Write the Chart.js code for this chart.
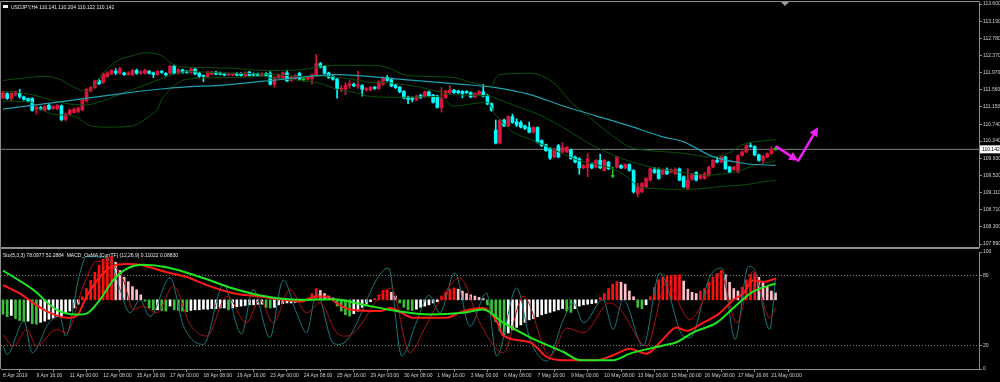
<!DOCTYPE html>
<html><head><meta charset="utf-8">
<script src="https://cdn.jsdelivr.net/npm/chart.js@4.4.1/dist/chart.umd.min.js"></script>
<style>
html,body{margin:0;padding:0;background:#000;width:1000px;height:382px;overflow:hidden}
canvas{position:absolute;left:0}
#main{top:0}
#sub{top:248px}
</style></head><body>
<canvas id="main" width="1000" height="248"></canvas>
<canvas id="sub" width="1000" height="134"></canvas>
<script>
// ---------- DATA ----------
const symbolTitle = 'USDJPY,H4 110.141 110.204 110.122 110.142';
const subTitle = 'Sto(5,3,3) 78.0977 52.2884  MACD_OsMA [CurrTF] (12,26,9) 0.11022 0.08830';
const lastPrice = 110.142;

const opens = [111.37,111.47,111.35,111.45,111.47,111.39,111.35,111.35,111.10,111.14,111.07,111.19,111.11,111.11,111.18,110.85,110.98,111.02,111.04,111.08,
111.29,111.53,111.61,111.78,111.73,111.88,111.94,112.00,111.95,111.96,111.92,111.92,112.02,111.95,111.95,112.00,111.96,111.92,112.00,111.95,
111.95,112.12,111.95,112.03,112.00,111.97,112.05,111.96,111.90,111.87,111.93,111.98,111.96,111.94,111.91,111.91,111.95,111.95,111.88,111.98,
111.94,111.94,111.90,111.95,111.95,111.69,111.85,111.83,111.96,111.78,111.82,111.95,111.80,111.81,111.82,111.90,112.18,112.12,111.96,111.88,
111.81,111.57,111.57,111.66,111.69,111.65,111.66,111.55,111.55,111.62,111.59,111.69,111.85,111.80,111.67,111.62,111.52,111.39,111.37,111.32,
111.43,111.39,111.51,111.43,111.41,111.14,111.37,111.49,111.55,111.53,111.52,111.52,111.49,111.39,111.45,111.51,111.43,111.23,110.60,110.29,
110.84,110.70,110.92,110.80,110.78,110.70,110.66,110.55,110.66,110.35,110.25,110.17,109.96,110.23,110.08,110.08,110.13,109.96,109.92,109.70,
109.70,109.80,109.72,109.88,109.64,109.84,109.50,109.72,109.76,109.70,109.78,109.64,109.09,109.13,109.25,109.41,109.66,109.66,109.56,109.66,
109.60,109.56,109.68,109.49,109.21,109.43,109.59,109.45,109.45,109.52,109.72,109.88,109.84,109.96,109.72,109.66,109.60,110.00,110.08,110.23,
110.21,110.01,109.88,109.96,110.04,110.141];
const highs = [111.52,111.49,111.51,111.53,111.57,111.41,111.36,111.37,111.18,111.16,111.18,111.22,111.18,111.21,111.20,111.01,111.10,111.13,111.15,111.34,
111.60,111.64,111.79,111.82,111.96,111.99,112.04,112.06,112.10,111.98,111.99,112.05,112.05,112.01,112.05,112.02,111.98,112.02,112.02,111.97,
112.14,112.15,112.06,112.05,112.02,112.08,112.07,111.98,111.91,112.00,112.00,112.00,111.98,111.96,111.96,111.96,111.97,111.97,111.99,112.00,
111.96,111.96,111.97,111.97,111.99,111.87,111.94,111.98,112.03,111.88,111.92,111.98,111.85,111.87,111.93,112.40,112.21,112.14,111.98,111.90,
111.83,111.66,111.73,111.78,111.72,112.00,111.68,111.61,111.64,111.64,111.77,111.87,111.90,111.82,111.69,111.64,111.54,111.41,111.39,111.43,
111.45,111.53,111.53,111.45,111.43,111.61,111.55,111.65,111.57,111.55,111.54,111.54,111.51,111.49,111.54,111.69,111.45,111.25,110.84,110.86,
110.86,110.94,110.98,110.87,110.82,110.72,110.79,110.68,110.68,110.37,110.27,110.19,110.17,110.26,110.30,110.21,110.15,109.98,109.94,109.78,
110.05,109.82,109.90,110.03,109.90,109.86,109.72,109.98,109.78,109.80,109.80,109.66,109.33,109.35,109.47,109.70,109.71,109.70,109.68,109.70,
109.68,109.70,109.70,109.51,109.68,109.58,109.61,109.55,109.60,109.74,109.90,109.96,109.98,109.98,109.74,109.74,110.01,110.10,110.25,110.31,
110.23,110.03,110.00,110.06,110.20,110.204];
const lows = [111.34,111.33,111.29,111.41,111.36,111.31,111.27,111.05,110.98,111.08,111.05,111.08,111.09,111.08,110.82,110.82,110.96,111.00,111.02,111.06,
111.27,111.51,111.59,111.68,111.71,111.86,111.92,111.92,111.93,111.90,111.90,111.90,111.93,111.93,111.93,111.93,111.85,111.90,111.95,111.89,
111.93,111.93,111.93,111.95,111.95,111.95,111.92,111.85,111.75,111.85,111.91,111.91,111.91,111.89,111.89,111.89,111.89,111.88,111.86,111.88,
111.89,111.88,111.88,111.88,111.67,111.62,111.83,111.81,111.75,111.76,111.80,111.79,111.76,111.79,111.69,111.88,112.08,111.93,111.83,111.79,
111.36,111.51,111.44,111.59,111.63,111.59,111.41,111.53,111.53,111.57,111.57,111.67,111.76,111.63,111.59,111.49,111.34,111.23,111.27,111.30,
111.35,111.37,111.39,111.24,111.12,111.03,111.35,111.47,111.47,111.47,111.37,111.47,111.37,111.37,111.43,111.39,111.20,111.05,110.27,110.27,
110.68,110.68,110.76,110.68,110.65,110.61,110.53,110.53,110.29,110.21,110.09,109.90,109.94,109.94,110.06,110.06,109.90,109.82,109.55,109.68,
109.49,109.68,109.70,109.68,109.62,109.66,109.47,109.70,109.68,109.68,109.62,109.10,109.01,109.11,109.23,109.39,109.57,109.43,109.54,109.54,
109.58,109.54,109.39,109.23,109.17,109.41,109.39,109.43,109.43,109.50,109.70,109.82,109.82,109.66,109.58,109.64,109.58,109.98,110.06,110.19,
109.99,109.86,109.81,109.94,110.02,110.122];
const closes = [111.49,111.35,111.47,111.51,111.39,111.33,111.29,111.07,111.14,111.10,111.16,111.10,111.16,111.19,110.85,110.98,111.08,111.10,111.12,111.32,
111.57,111.61,111.77,111.70,111.94,111.96,112.02,111.96,112.06,111.92,111.96,112.02,111.95,111.99,112.03,111.95,111.92,112.00,111.97,111.91,
112.12,111.95,112.04,111.97,111.97,112.05,111.94,111.88,111.88,111.98,111.98,111.93,111.93,111.91,111.94,111.94,111.91,111.90,111.96,111.90,
111.91,111.90,111.95,111.90,111.69,111.85,111.92,111.96,111.77,111.86,111.90,111.81,111.80,111.85,111.91,112.18,112.10,111.95,111.85,111.81,
111.57,111.59,111.66,111.70,111.65,111.67,111.57,111.59,111.62,111.59,111.75,111.83,111.78,111.65,111.61,111.51,111.36,111.33,111.33,111.41,
111.37,111.51,111.41,111.26,111.14,111.36,111.53,111.55,111.49,111.49,111.47,111.49,111.39,111.47,111.52,111.41,111.22,111.07,110.29,110.84,
110.70,110.92,110.78,110.72,110.67,110.64,110.55,110.66,110.31,110.23,110.11,109.93,110.15,109.96,110.19,110.19,109.92,109.84,109.70,109.76,
109.92,109.70,109.88,109.70,109.88,109.68,109.50,109.96,109.70,109.78,109.64,109.13,109.25,109.33,109.45,109.68,109.59,109.45,109.66,109.56,
109.65,109.66,109.41,109.25,109.41,109.56,109.41,109.53,109.56,109.72,109.88,109.84,109.96,109.68,109.60,109.72,109.99,110.08,110.23,110.21,
110.01,109.88,109.98,110.04,110.14,110.142];

// Indicator lines: [bar index, value]
const bbUpper = [[0,111.78],[6,111.85],[10,111.88],[13,111.83],[17,111.62],[20,111.52],[22,111.66],[24,111.95],[27,112.23],[31,112.37],[34,112.44],[38,112.37],[40,112.21],[42,112.11],[46,112.09],[55,112.07],[62,112.02],[68,112.02],[74,112.07],[77,112.14],[88,112.14],[92,112.09],[96,111.92],[100,111.88],[108,111.85],[112,111.74],[117,111.64],[118,111.85],[119,111.92],[126,111.95],[130,111.85],[133,111.62],[136,111.26],[139,111.03],[142,110.77],[146,110.46],[150,110.20],[155,110.11],[162,110.06],[170,109.96],[174,110.06],[177,110.25],[180,110.32],[185,110.37]];
const bbMiddle = [[0,111.52],[4,111.49],[8,111.42],[12,111.30],[16,111.22],[20,111.20],[24,111.30],[28,111.45],[32,111.60],[36,111.75],[40,111.90],[44,111.99],[48,111.98],[52,111.96],[56,111.95],[60,111.94],[64,111.93],[68,111.90],[72,111.87],[76,111.89],[80,111.86],[84,111.80],[88,111.74],[92,111.73],[96,111.68],[100,111.62],[104,111.52],[108,111.44],[112,111.43],[116,111.42],[118,111.36],[120,111.28],[124,111.13],[128,110.98],[132,110.78],[136,110.55],[140,110.30],[144,110.10],[148,109.93],[152,109.80],[156,109.70],[160,109.63],[164,109.57],[168,109.53],[172,109.55],[176,109.62],[180,109.76],[185,109.87]];
const bbLower = [[0,111.29],[7,111.26],[8,111.17],[12,110.98],[17,110.93],[21,110.70],[25,110.67],[31,110.70],[35,110.93],[37,111.10],[38,111.33],[39,111.45],[40,111.57],[44,111.81],[55,111.85],[62,111.88],[64,111.84],[68,111.81],[76,111.71],[80,111.57],[84,111.50],[88,111.40],[96,111.38],[104,111.40],[108,111.17],[112,111.22],[116,111.26],[118,110.95],[120,110.75],[122,110.56],[126,110.39],[130,110.22],[134,110.04],[138,109.87],[142,109.78],[146,109.68],[150,109.45],[152,109.26],[156,109.21],[162,109.19],[168,109.21],[172,109.26],[178,109.30],[182,109.37],[185,109.40]];
const maLine = [[0,111.10],[15,111.29],[27,111.45],[39,111.59],[55,111.69],[67,111.81],[80,111.92],[94,111.82],[110,111.69],[118,111.61],[126,111.45],[134,111.18],[142,110.94],[150,110.70],[158,110.44],[163,110.32],[170,109.97],[178,109.80],[185,109.76]];
const arrowPath = [[185.3,110.20],[190.4,109.87],[195.2,110.67]];

// Sub window
const stochMain = [[0,19.6],[1,12.5],[5,40.9],[7,13.9],[11,39.4],[13.6,45.1],[15,28.1],[18.4,82],[20,96],[22.4,96],[25.6,93],[28,68],[30.4,48],[32.8,59],[35.2,45],[40,78],[43.2,37],[48,21],[52.8,72],[57.1,30],[59.9,68],[63.9,27],[67.1,76],[70.3,48],[72.7,31],[75.1,65],[79.1,22],[80.7,21],[92.3,86.3],[95.5,11.1],[99,40],[102,63],[104.6,48],[108.2,82],[111.8,36.6],[115.8,65],[118.2,11.1],[123,69.2],[126.2,25.3],[130.2,6.8],[134.2,42.3],[136.6,56.5],[139,39.4],[143.7,59.3],[146.1,33.8],[148.5,59.3],[153.3,19.6],[157.3,82],[162.9,28.1],[164.5,26.7],[169.3,79.2],[172.1,86.3],[175.3,25.3],[178.5,87.7],[180,84.8],[183.6,33.8],[185,78.1]];
const stochSignal = [[0,29.5],[2.5,19.6],[5.7,33.8],[8,19.6],[12.8,33.8],[15.2,31],[19.2,70.7],[22.4,92],[25.6,90.5],[28.8,76.3],[31.2,50.8],[33.6,53.6],[36.8,48],[40.8,70.7],[44.8,38],[48.8,28.1],[53.6,62.1],[58.3,39.4],[61.5,59.3],[64.7,39.4],[68.7,67.8],[72.7,48],[75.9,56.5],[79.9,31],[82.3,28.1],[93,69.2],[97.4,13.9],[101,35],[104,55],[109.4,77.7],[114.2,39.4],[119.8,13.9],[124.6,62.1],[131,11.1],[135,35],[139,31],[145.3,56.5],[148,50],[154.1,19.6],[158.9,73.5],[164.5,42.3],[171.7,82],[175.7,39.4],[179.6,83.4],[183.6,43.7],[185,52.3]];
const osmaHist = [-0.23,-0.27,-0.25,-0.30,-0.33,-0.35,-0.34,-0.38,-0.39,-0.36,-0.34,-0.31,-0.29,-0.27,-0.26,-0.22,-0.18,-0.13,-0.07,
0.05,0.18,0.31,0.44,0.55,0.65,0.68,0.69,
0.60,0.47,0.36,0.29,0.21,0.16,0.08,
-0.02,-0.13,-0.16,-0.16,-0.17,-0.18,-0.10,-0.16,-0.17,-0.18,-0.19,
-0.17,-0.16,-0.16,-0.15,-0.15,-0.14,-0.14,-0.13,-0.13,
-0.16,-0.13,-0.11,-0.10,-0.09,-0.08,-0.08,-0.07,-0.07,
-0.12,-0.13,-0.12,-0.08,-0.06,-0.05,-0.05,-0.04,-0.03,-0.02,-0.01,
0.10,0.18,0.15,0.10,0.06,0.03,
-0.10,-0.18,-0.24,-0.26,-0.22,-0.18,-0.12,-0.07,-0.03,
0.02,0.08,0.15,0.16,0.12,0.06,
-0.05,-0.12,-0.16,-0.17,-0.15,-0.12,-0.10,-0.08,-0.05,-0.03,
0.06,0.12,0.17,0.19,0.17,0.14,0.10,0.08,0.06,0.04,0.02,
-0.08,-0.20,-0.35,-0.50,-0.57,
-0.53,-0.48,-0.44,-0.40,-0.36,-0.32,-0.30,-0.27,-0.24,-0.22,-0.20,-0.18,-0.16,-0.14,
-0.18,-0.20,-0.14,-0.10,-0.08,-0.07,-0.06,-0.05,
0.04,0.10,0.18,0.25,0.29,0.28,0.25,0.14,0.05,
-0.12,-0.14,-0.08,
0.05,0.20,0.32,0.36,0.38,0.39,0.39,0.40,
0.30,0.17,0.12,0.10,
0.14,0.18,0.28,0.36,0.42,0.47,
0.40,0.28,0.18,0.14,
0.20,0.32,0.41,0.42,
0.36,0.28,0.20,0.14,0.11];
const macdRedLine = [[0,0.234],[4.1,0.10],[7.3,-0.052],[11,-0.2],[15.2,-0.287],[17.6,-0.26],[20,0.052],[23.2,0.365],[26.4,0.547],[29.6,0.573],[32.8,0.56],[35.2,0.52],[39.2,0.44],[44,0.365],[48.8,0.234],[55.1,0.104],[61.5,0.052],[67.1,0],[71.1,-0.026],[75.1,0.052],[77.5,0.052],[79.9,-0.052],[83.1,-0.156],[90.3,-0.18],[92.7,-0.13],[98.3,-0.287],[106.2,-0.287],[110.2,-0.18],[115,-0.13],[118.2,-0.339],[119.8,-0.573],[126.2,-0.677],[130.2,-0.911],[134.2,-0.964],[142.1,-0.964],[146.1,-0.885],[150.1,-0.78],[154.1,-0.86],[158.1,-0.625],[161.3,-0.443],[163.7,-0.495],[167.7,-0.365],[171.7,-0.208],[174.9,0],[177.3,0.104],[179.6,0.313],[182,0.287],[185,0.339]];
const macdGreenLine = [[0,0.469],[7.3,0.156],[12.8,-0.156],[17.6,-0.235],[20,-0.22],[23.2,0],[26.4,0.313],[29.6,0.495],[33.6,0.56],[39.2,0.52],[47.2,0.365],[55.1,0.182],[63.1,0.052],[71.1,0],[79.1,0.01],[86.3,-0.078],[94.3,-0.18],[102.2,-0.235],[110.2,-0.208],[115,-0.156],[119.8,-0.365],[126.2,-0.599],[134.2,-0.833],[138.2,-0.964],[146.1,-0.964],[150.1,-0.86],[158.1,-0.73],[161.3,-0.677],[165.3,-0.52],[170.9,-0.365],[174.9,-0.13],[179.6,0.13],[185,0.26]];

// Axis ticks
const priceTicks = [113.600,113.190,112.780,112.370,111.970,111.560,111.150,110.740,110.340,109.930,109.520,109.110,108.710,108.300,107.890];
const priceTickLabels = ['113.600','113.190','112.780','112.370','111.970','111.560','111.150','110.740','110.340','109.930','109.520','109.110','108.710','108.300','107.890'];
const stochTicks = [0,20,80,100];
const stochTickLabels = ['0','20','80','100'];
const stochLevels = [20,80];
const timeTickBars = [0,8,16,24,32,40,48,56,64,72,80,88,96,104,112,120,128,136,144,152,160,168,176,184];
const timeTickLabels = ['8 Apr 2019','9 Apr 16:00','11 Apr 00:00','12 Apr 08:00','15 Apr 16:00','17 Apr 00:00','18 Apr 08:00','19 Apr 16:00','23 Apr 00:00','24 Apr 08:00','25 Apr 16:00','29 Apr 00:00','30 Apr 08:00','1 May 16:00','3 May 00:00','6 May 08:00','7 May 16:00','9 May 00:00','10 May 08:00','13 May 16:00','15 May 00:00','16 May 08:00','17 May 16:00','21 May 00:00'];

// ---------- STYLE ----------
const FONT = "'Liberation Sans', Arial, sans-serif";
const X_MIN = -0.479, X_MAX = 233.72;
const BULL = '#dc143c', BEAR = '#00ffff', DOJI = '#22c022';
const AXIS_TXT = '#d0d0d0', FRAME = '#8c8c8c';

const idx = opens.map((_, i) => i);
const candleColor = idx.map(i => Math.abs(closes[i]-opens[i]) < 0.005 ? DOJI : (closes[i] > opens[i] ? BULL : BEAR));
const pts = a => a.map(p => ({x:p[0], y:p[1]}));
function lineDs(points, color, width, axis, order){
  return {type:'line', data: pts(points), borderColor: color, borderWidth: width, pointRadius: 0,
    cubicInterpolationMode:'monotone', fill:false, yAxisID: axis, order};
}

// ---------- MAIN CHART ----------
const mainPlugin = {
  id:'mainDeco',
  afterDraw(chart){
    const c = chart.ctx, xs = chart.scales.x, ys = chart.scales.y;
    c.save();
    c.strokeStyle = FRAME; c.lineWidth = 1;
    c.beginPath();
    c.moveTo(0.5,247.5); c.lineTo(0.5,1.5); c.lineTo(979.5,1.5); c.lineTo(979.5,247.5); c.lineTo(0.5,247.5);
    c.stroke();
    c.fillStyle = '#9a9a9a';
    c.beginPath(); c.moveTo(781,2); c.lineTo(789,2); c.lineTo(785,6); c.closePath(); c.fill();
    c.fillStyle = '#f0f0f0'; c.fillRect(3,5,5,3);
    c.fillStyle = '#e8e8e8'; c.font = '5px ' + FONT; c.textBaseline = 'middle';
    c.fillText(symbolTitle, 11, 7.5);
    const py = ys.getPixelForValue(lastPrice);
    c.fillStyle = '#ffffff'; c.fillRect(980, py-4, 20, 8);
    c.fillStyle = '#000000'; c.fillText(lastPrice.toFixed(3), 982, py+0.5);
    const P = arrowPath.map(p => [xs.getPixelForValue(p[0]), ys.getPixelForValue(p[1])]);
    c.strokeStyle = '#ee22ee'; c.fillStyle = '#ee22ee'; c.lineWidth = 2.5; c.lineCap='round';
    for (let k=0;k<P.length-1;k++){
      const [x1,y1]=P[k],[x2,y2]=P[k+1];
      const ang = Math.atan2(y2-y1,x2-x1), L=9, W=4.5;
      const bx = x2 - L*Math.cos(ang), by = y2 - L*Math.sin(ang);
      c.beginPath(); c.moveTo(x1,y1); c.lineTo(bx,by); c.stroke();
      c.beginPath(); c.moveTo(x2,y2);
      c.lineTo(bx + W*Math.sin(ang), by - W*Math.cos(ang));
      c.lineTo(bx - W*Math.sin(ang), by + W*Math.cos(ang));
      c.closePath(); c.fill();
    }
    c.restore();
  }
};

new Chart(document.getElementById('main'), {
  type:'bar',
  data:{datasets:[
    {type:'line', data:[{x:X_MIN,y:lastPrice},{x:X_MAX,y:lastPrice}], borderColor:'#7c7c86', borderWidth:1, pointRadius:0, yAxisID:'y', order:20},
    lineDs(bbUpper,'#0a500a',1,'y',2),
    lineDs(bbMiddle,'#0a500a',1,'y',2),
    lineDs(bbLower,'#0a500a',1,'y',2),
    lineDs(maLine,'#1fa0b0',1.2,'y',1),
    {type:'bar', data: idx.map(i => ({x:i, y:[lows[i], highs[i]]})), backgroundColor: candleColor, barThickness:1, grouped:false, yAxisID:'y', order:6},
    {type:'bar', data: idx.map(i => ({x:i, y:[opens[i], closes[i]]})), backgroundColor: candleColor, barThickness:3, minBarLength:1, grouped:false, yAxisID:'y', order:5}
  ]},
  options:{
    responsive:false, animation:false, devicePixelRatio:1,
    layout:{padding:{left:1,right:0,top:4,bottom:2}},
    plugins:{legend:{display:false}, tooltip:{enabled:false}},
    scales:{
      x:{type:'linear', min:X_MIN, max:X_MAX, offset:false, display:false},
      y:{type:'linear', position:'right', min:107.89, max:113.6,
        afterFit(s){ s.width = 21; },
        afterBuildTicks(s){ s.ticks = priceTicks.map(v => ({value:v})); },
        ticks:{callback:(v,i) => priceTickLabels[i], color:AXIS_TXT, font:{family:FONT, size:5}, padding:1, autoSkip:false},
        grid:{drawOnChartArea:false, drawTicks:true, tickLength:3, color:FRAME},
        border:{display:true, color:FRAME}
      }
    }
  },
  plugins:[mainPlugin]
});

// ---------- SUB CHART ----------
const histColors = osmaHist.map((v,i) => {
  const p = i>0 ? osmaHist[i-1] : v;
  if (v >= 0) return v >= p ? '#ff1010' : '#ffc0cb';
  return (i===0 || v < p) ? '#3cc03c' : '#ffffff';
});
const subPlugin = {
  id:'subDeco',
  afterDraw(chart){
    const c = chart.ctx;
    c.save();
    c.strokeStyle = FRAME; c.lineWidth = 1;
    c.beginPath(); c.moveTo(0.5,121); c.lineTo(0.5,0.5); c.lineTo(979.5,0.5); c.stroke();
    c.fillStyle = '#e8e8e8'; c.font = '5px ' + FONT; c.textBaseline = 'middle';
    c.fillText(subTitle, 3, 8);
    c.restore();
  }
};
new Chart(document.getElementById('sub'), {
  type:'bar',
  data:{datasets:[
    ...stochLevels.map(l => ({type:'line', data:[{x:X_MIN,y:l},{x:X_MAX,y:l}], borderColor:'#8a8a8a', borderWidth:1, borderDash:[1,2], pointRadius:0, yAxisID:'y', order:30})),
    {type:'bar', data: idx.map(i => ({x:i, y:osmaHist[i]})), backgroundColor: histColors, barThickness:2, grouped:false, yAxisID:'osma', order:20},
    lineDs(stochMain,'#187878',1,'y',6),
    lineDs(stochSignal,'#b01010',1,'y',5),
    lineDs(macdRedLine,'#ff1a1a',2,'osma',2),
    lineDs(macdGreenLine,'#1ee81e',2,'osma',1)
  ]},
  options:{
    responsive:false, animation:false, devicePixelRatio:1,
    layout:{padding:{left:1,right:0,top:1.4,bottom:0}},
    plugins:{legend:{display:false}, tooltip:{enabled:false}},
    scales:{
      x:{type:'linear', min:X_MIN, max:X_MAX, offset:false, position:'bottom',
        afterFit(s){ s.height = 13; },
        afterBuildTicks(s){ s.ticks = timeTickBars.map(v => ({value:v})); },
        ticks:{callback:(v,i) => timeTickLabels[i], color:AXIS_TXT, font:{family:FONT, size:5}, padding:1, align:'start', autoSkip:false, maxRotation:0, minRotation:0},
        grid:{drawOnChartArea:false, drawTicks:true, tickLength:3, color:FRAME},
        border:{display:true, color:FRAME}
      },
      y:{type:'linear', position:'right', min:0, max:100,
        afterFit(s){ s.width = 21; },
        afterBuildTicks(s){ s.ticks = stochTicks.map(v => ({value:v})); },
        ticks:{callback:(v,i) => stochTickLabels[i], color:AXIS_TXT, font:{family:FONT, size:5}, padding:1, autoSkip:false},
        grid:{drawOnChartArea:false, drawTicks:true, tickLength:3, color:FRAME},
        border:{display:true, color:FRAME}
      },
      osma:{type:'linear', display:false, min:-1.105, max:0.764}
    }
  },
  plugins:[subPlugin]
});
</script></body></html>
